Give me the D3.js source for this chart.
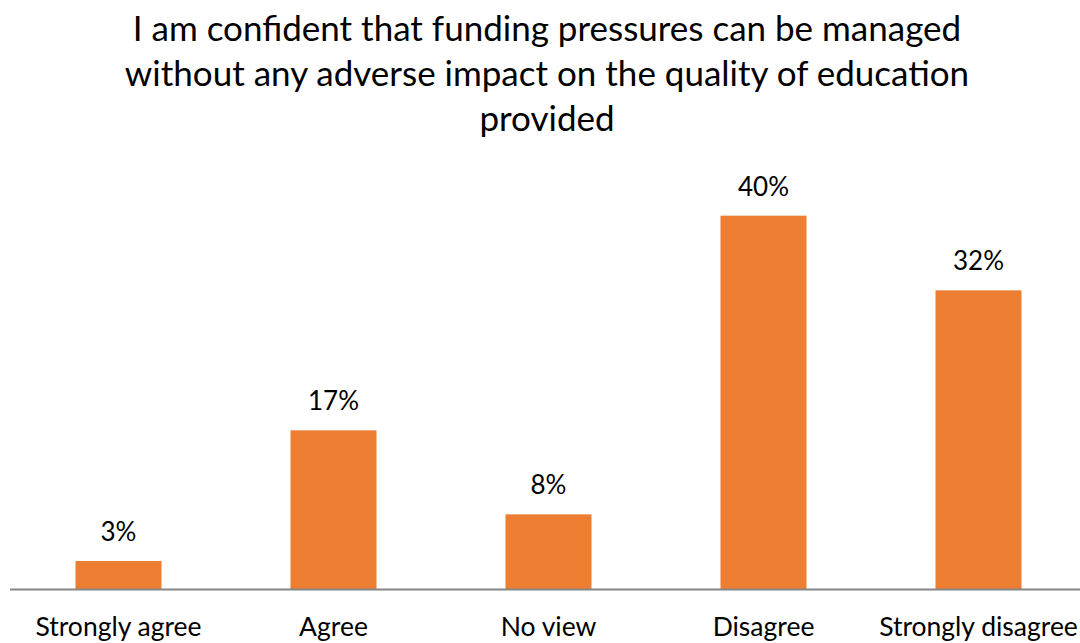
<!DOCTYPE html>
<html>
<head>
<meta charset="utf-8">
<script src="https://cdn.jsdelivr.net/npm/d3@7"></script>
<style>
  html, body { margin: 0; padding: 0; background: #fff; }
  svg { display: block; }
  text { font-family: Lato, "Open Sans", sans-serif; fill: #000; }
</style>
</head>
<body>
<svg id="chart" width="1080" height="643"></svg>
<script>
// Survey responses, percent of respondents
const categories = ["Strongly agree", "Agree", "No view", "Disagree", "Strongly disagree"];
const values = [3, 17, 8, 40, 32];
const titleLines = [
  "I am confident that funding pressures can be managed",
  "without any adverse impact on the quality of education",
  "provided"
];

const width = 1080, height = 643;
const svg = d3.select("#chart");

const x = d3.scaleBand()
  .domain(categories)
  .range([11, 1086])
  .paddingInner(0.6)
  .paddingOuter(0.3);

const y = d3.scaleLinear()
  .domain([0, 45])
  .range([589, 169]);

// Title
const title = svg.append("text")
  .attr("x", 547)
  .attr("y", 41)
  .attr("text-anchor", "middle")
  .style("font-size", "35px");
titleLines.forEach((line, i) => {
  title.append("tspan")
    .attr("x", 547)
    .attr("dy", i === 0 ? 0 : 45)
    .text(line);
});

// Bars
svg.append("g")
  .selectAll("rect")
  .data(values)
  .join("rect")
  .attr("x", (d, i) => x(categories[i]))
  .attr("y", d => y(d))
  .attr("width", x.bandwidth())
  .attr("height", d => y(0) - y(d))
  .attr("fill", "#ED7D31");

// Value labels
svg.append("g")
  .selectAll("text")
  .data(values)
  .join("text")
  .attr("x", (d, i) => x(categories[i]) + x.bandwidth() / 2)
  .attr("y", d => y(d) - 20)
  .attr("text-anchor", "middle")
  .style("font-size", "26px")
  .text(d => d + "%");

// Category axis
const axis = svg.append("g")
  .attr("transform", `translate(0,${y(0)})`)
  .call(d3.axisBottom(x).tickSize(0).tickPadding(28));
axis.select(".domain")
  .attr("d", `M10,0.5H1080`)
  .attr("stroke", "#868686")
  .attr("stroke-width", 2);
axis.selectAll(".tick text")
  .style("font-family", "Lato, 'Open Sans', sans-serif")
  .style("font-size", "26.5px")
  .attr("fill", "#000");
</script>
</body>
</html>
